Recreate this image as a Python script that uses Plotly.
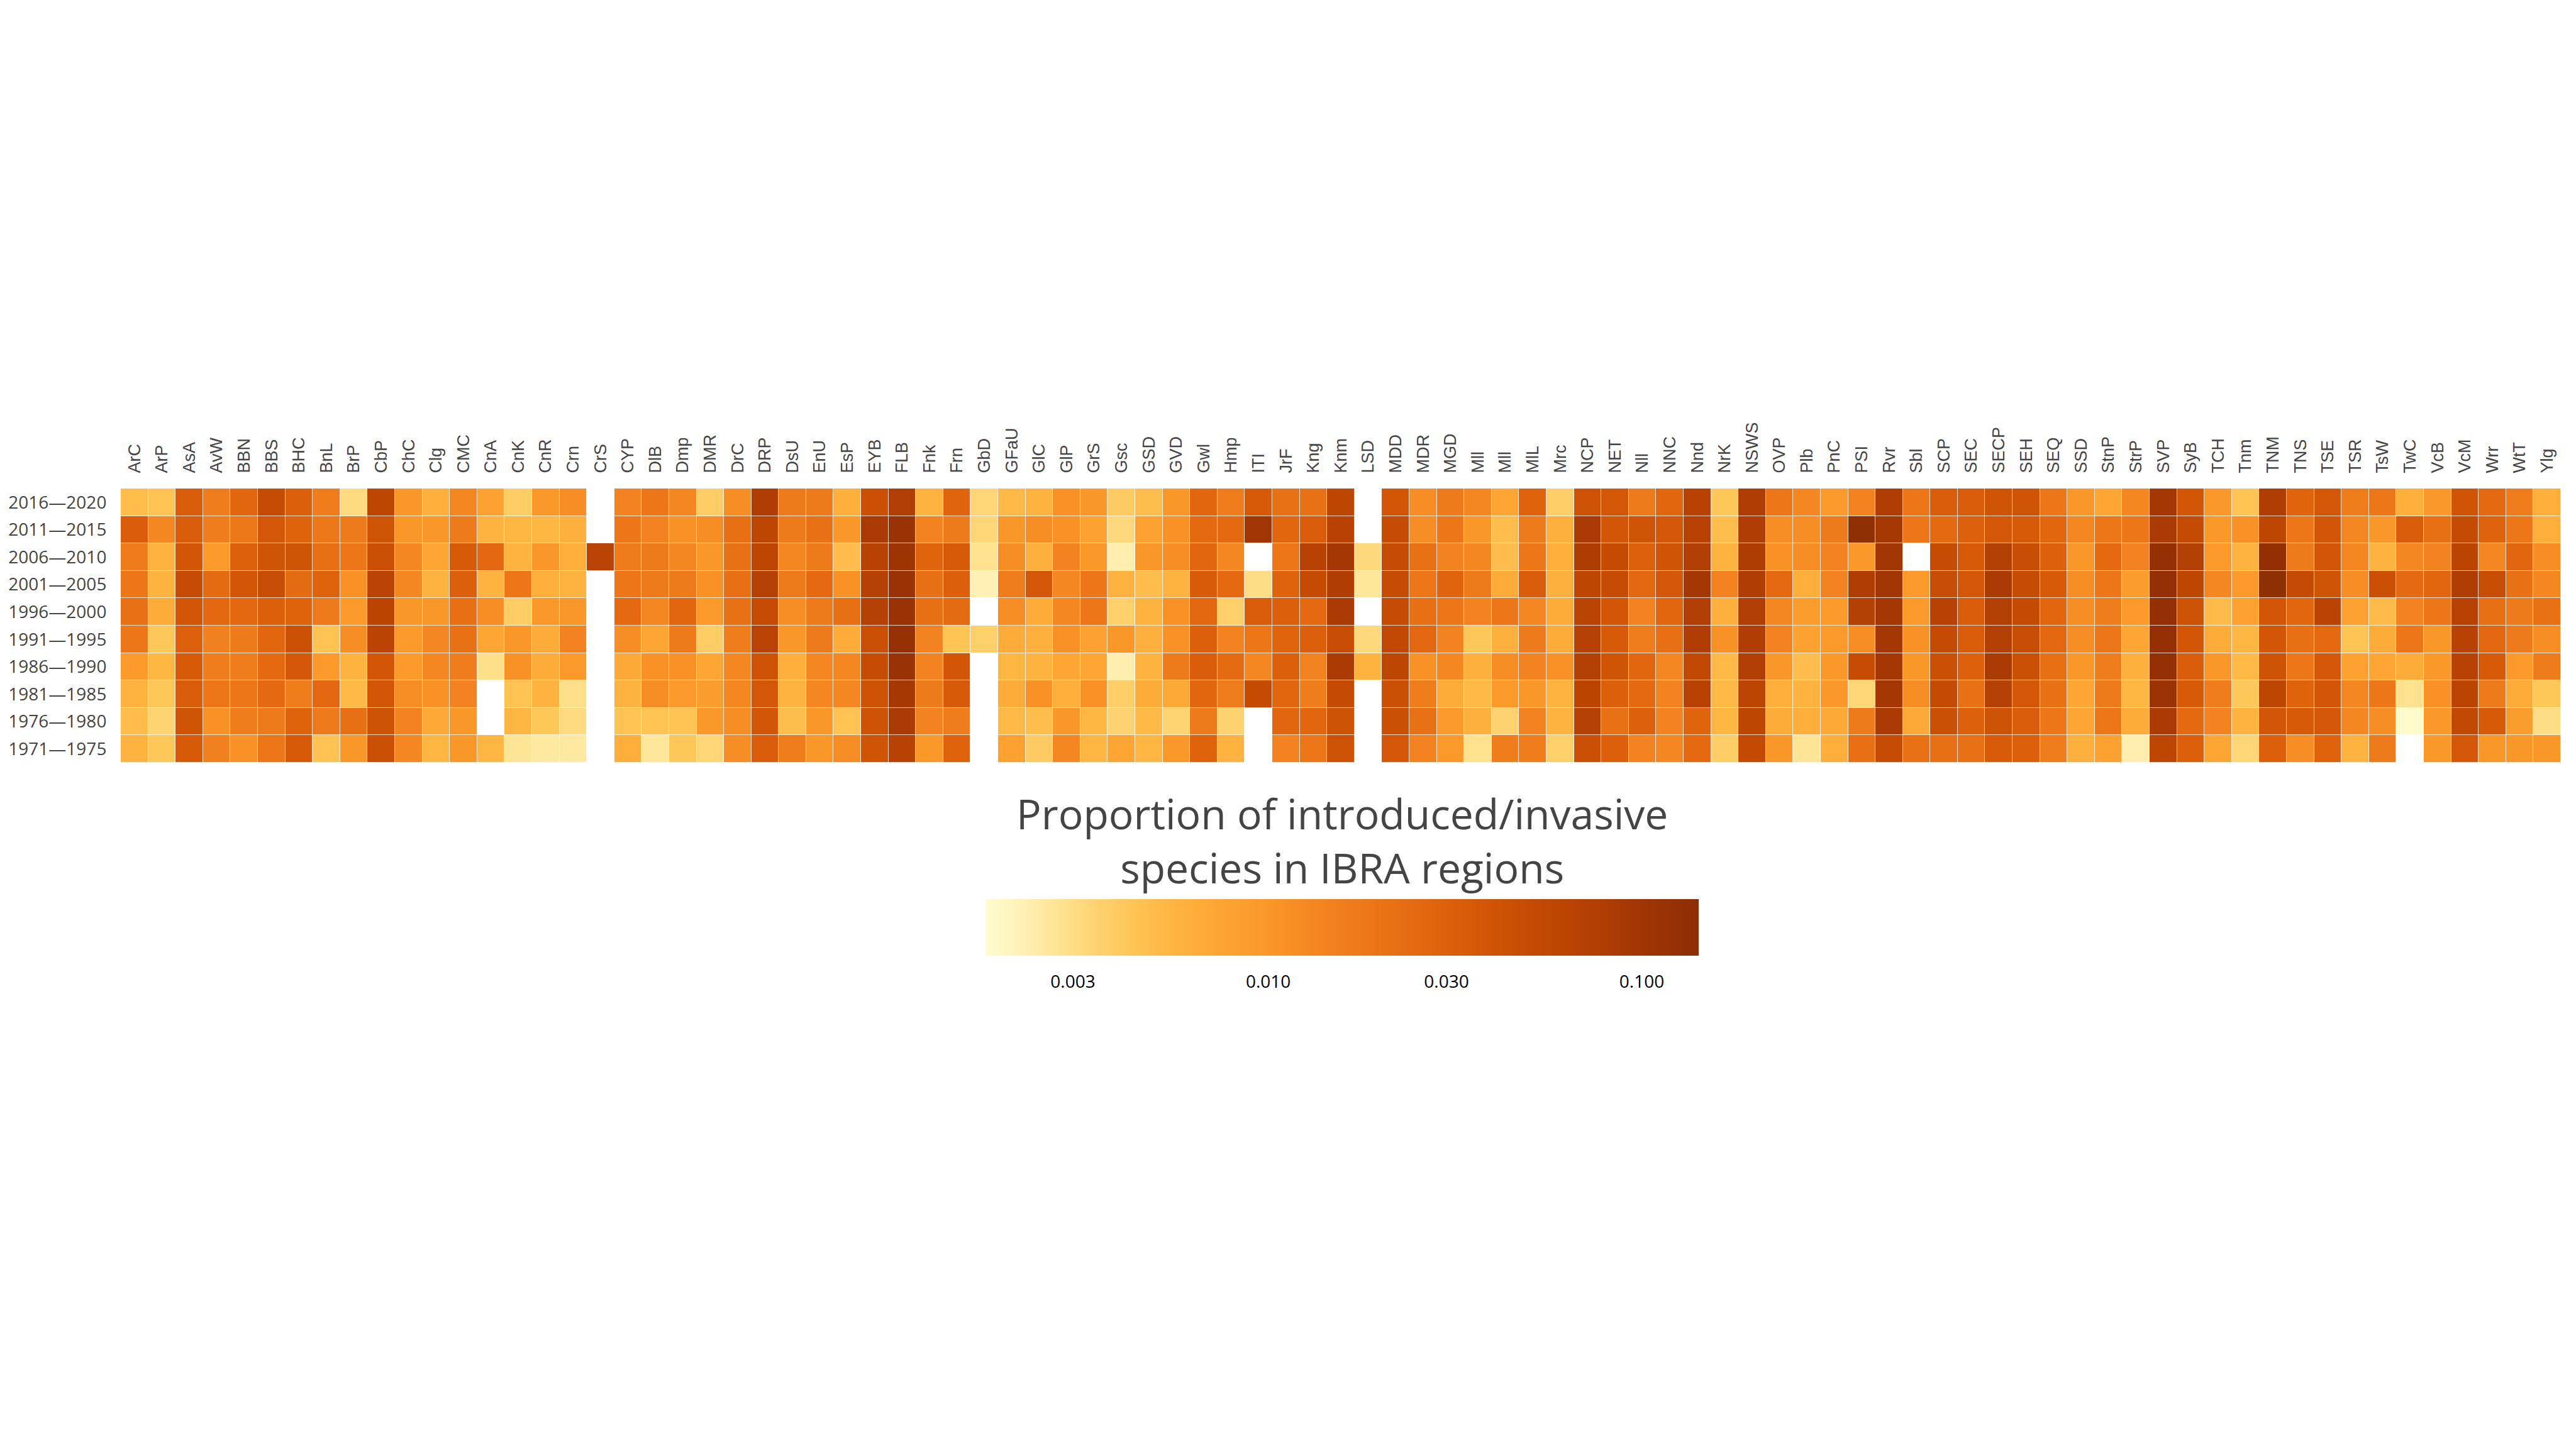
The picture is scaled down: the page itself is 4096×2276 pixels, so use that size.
import numpy as np
import plotly.graph_objects as go

regions = ["ArC","ArP","AsA","AvW","BBN","BBS","BHC","BnL","BrP","CbP",
           "ChC","Clg","CMC","CnA","CnK","CnR","Crn","CrS","CYP","DlB",
           "Dmp","DMR","DrC","DRP","DsU","EnU","EsP","EYB","FLB","Fnk",
           "Frn","GbD","GFaU","GlC","GlP","GrS","Gsc","GSD","GVD","Gwl",
           "Hmp","ITI","JrF","Kng","Knm","LSD","MDD","MDR","MGD","Mll",
           "Mll","MlL","Mrc","NCP","NET","Nll","NNC","Nnd","NrK","NSWS",
           "OVP","Plb","PnC","PSI","Rvr","Sbl","SCP","SEC","SECP","SEH",
           "SEQ","SSD","StnP","StrP","SVP","SyB","TCH","Tnm","TNM","TNS",
           "TSE","TSR","TsW","TwC","VcB","VcM","Wrr","WtT","Ylg"]

periods = ["2016\u20142020","2011\u20142015","2006\u20142010","2001\u20142005","1996\u20142000",
           "1991\u20141995","1986\u20141990","1981\u20141985","1976\u20141980","1971\u20141975"]

p2016_2020 = [.0050,.0045,.033,.016,.027,.050,.031,.016,.0031,.058,
              .010,.0062,.013,.0078,.0038,.0098,.0115,None,.014,.019,
              .013,.0038,.0115,.078,.017,.017,.0063,.045,.076,.0058,
              .028,.0033,.0052,.0058,.011,.010,.0039,.0048,.010,.027,
              .016,.035,.021,.021,.058,None,.038,.0115,.017,.013,
              .0072,.029,.0037,.042,.037,.017,.027,.067,.0042,.078,
              .019,.013,.0095,.014,.078,.019,.033,.033,.040,.040,
              .019,.010,.0072,.013,.095,.038,.0098,.0044,.078,.028,
              .037,.016,.019,.0063,.0098,.040,.025,.016,.0063]

p2011_2015 = [.033,.013,.033,.016,.018,.037,.029,.018,.017,.040,
              .010,.010,.017,.0058,.0055,.0055,.006,None,.019,.014,
              .011,.0115,.022,.058,.017,.021,.010,.088,.115,.014,
              .017,.0033,.010,.0115,.011,.0078,.0032,.0078,.011,.025,
              .025,.10,.027,.033,.067,None,.050,.0115,.019,.010,
              .0049,.017,.006,.088,.038,.040,.037,.067,.0049,.078,
              .0115,.0115,.017,.138,.092,.019,.025,.030,.037,.035,
              .027,.013,.019,.019,.085,.051,.0098,.011,.058,.019,
              .038,.013,.010,.033,.022,.051,.029,.019,.0063]

p2006_2010 = [.0165,.0058,.038,.0095,.030,.040,.040,.022,.019,.045,
              .013,.0072,.035,.026,.0057,.010,.0063,.065,.0165,.017,
              .013,.010,.021,.058,.013,.017,.0049,.067,.105,.028,
              .035,.0028,.012,.006,.014,.0098,.0023,.010,.0115,.027,
              .013,None,.019,.067,.095,.0032,.050,.021,.014,.013,
              .0049,.019,.0063,.080,.051,.030,.040,.076,.0057,.080,
              .011,.0115,.014,.0098,.10,None,.050,.035,.073,.048,
              .030,.010,.025,.014,.125,.073,.0092,.0058,.13,.017,
              .038,.013,.0058,.013,.014,.062,.013,.027,.0115]

p2001_2005 = [.019,.0058,.050,.024,.038,.048,.024,.029,.011,.065,
              .013,.0058,.031,.0058,.019,.0063,.0058,None,.019,.017,
              .017,.011,.022,.070,.017,.025,.011,.070,.115,.022,
              .031,.0022,.016,.037,.013,.019,.0058,.0049,.0058,.034,
              .025,.0030,.029,.051,.078,.0026,.050,.019,.028,.017,
              .0065,.033,.006,.058,.050,.026,.037,.095,.014,.078,
              .025,.0063,.014,.078,.10,.0095,.048,.037,.085,.050,
              .035,.0115,.019,.0088,.125,.058,.013,.0092,.138,.051,
              .040,.0115,.045,.025,.027,.078,.048,.021,.013]

p1996_2000 = [.021,.0065,.038,.026,.026,.031,.029,.017,.0095,.062,
              .010,.010,.022,.012,.0038,.0098,.010,None,.025,.013,
              .027,.0092,.021,.050,.0115,.017,.022,.070,.115,.022,
              .024,None,.0115,.0065,.013,.019,.0036,.0058,.011,.026,
              .0036,.033,.031,.025,.085,None,.050,.022,.019,.014,
              .019,.013,.0065,.064,.038,.014,.027,.076,.006,.076,
              .013,.0088,.0095,.073,.095,.0095,.067,.033,.073,.051,
              .027,.0115,.016,.0095,.125,.042,.0051,.0078,.038,.027,
              .064,.0078,.0051,.014,.019,.067,.022,.017,.021]

p1991_1995 = [.019,.0042,.030,.015,.017,.027,.043,.0045,.0115,.062,
              .0092,.013,.021,.0072,.010,.0065,.014,None,.0115,.0072,
              .017,.0038,.016,.066,.010,.017,.0065,.045,.12,.014,
              .0044,.0036,.0065,.006,.011,.0078,.010,.006,.011,.031,
              .014,.019,.028,.031,.048,.0032,.055,.026,.014,.0042,
              .006,.017,.0065,.070,.035,.016,.022,.078,.011,.078,
              .014,.0078,.0092,.0115,.095,.011,.051,.033,.073,.048,
              .026,.0115,.019,.0072,.125,.038,.0065,.0055,.038,.022,
              .025,.0044,.0065,.019,.010,.067,.026,.017,.0115]

p1986_1990 = [.0095,.0055,.035,.016,.016,.025,.037,.0095,.0058,.038,
              .0095,.013,.016,.0029,.011,.0065,.0092,None,.0068,.011,
              .011,.0072,.013,.042,.0063,.013,.013,.050,.115,.014,
              .038,None,.0055,.0057,.0072,.0072,.0023,.0058,.017,.033,
              .024,.013,.031,.014,.088,.0058,.058,.011,.013,.006,
              .0115,.014,.011,.073,.040,.027,.013,.055,.0052,.076,
              .010,.0049,.0098,.050,.095,.010,.045,.030,.088,.045,
              .022,.010,.016,.006,.125,.033,.010,.0052,.042,.019,
              .037,.0078,.0072,.0065,.0098,.067,.035,.0092,.0165]

p1981_1985 = [.0058,.0042,.033,.019,.019,.025,.016,.026,.0052,.038,
              .012,.011,.014,None,.0045,.0057,.0029,None,.0058,.012,
              .0092,.0088,.013,.037,.0057,.013,.013,.042,.092,.017,
              .035,None,.0065,.011,.0063,.011,.0037,.0065,.0068,.027,
              .016,.051,.027,.016,.051,None,.045,.016,.0065,.0052,
              .0092,.010,.0058,.062,.031,.025,.014,.067,.0052,.060,
              .0063,.0058,.0098,.0033,.095,.012,.051,.021,.070,.037,
              .021,.0072,.017,.0055,.11,.035,.016,.0042,.058,.029,
              .038,.013,.019,.0028,.011,.062,.017,.0065,.0042]

p1976_1980 = [.0050,.0034,.040,.011,.016,.017,.029,.017,.022,.042,
              .014,.0068,.010,None,.0055,.0042,.0031,None,.0045,.0045,
              .0045,.0098,.0115,.038,.0048,.010,.0045,.042,.085,.014,
              .016,None,.0052,.0048,.010,.0055,.0035,.0052,.0034,.017,
              .0035,None,.027,.027,.042,None,.045,.021,.0092,.006,
              .0035,.014,.0058,.070,.021,.030,.014,.028,.0055,.058,
              .0065,.0063,.0068,.017,.088,.0068,.045,.030,.042,.033,
              .019,.0072,.019,.0065,.085,.025,.014,.0057,.038,.035,
              .037,.013,.0115,.0018,.0098,.056,.035,.0088,.0030]

p1971_1975 = [.0058,.0042,.035,.015,.011,.019,.035,.0045,.010,.045,
              .013,.0055,.010,.0055,.0027,.0025,.0025,None,.0063,.0026,
              .0042,.0033,.0115,.033,.016,.010,.012,.040,.067,.0098,
              .029,None,.0078,.0039,.013,.0055,.0072,.0055,.0098,.029,
              .0058,None,.014,.019,.042,None,.037,.014,.0092,.0028,
              .016,.016,.0036,.045,.031,.014,.013,.025,.0038,.052,
              .010,.0027,.0063,.022,.050,.021,.022,.021,.034,.031,
              .016,.006,.0078,.0023,.058,.031,.0072,.0033,.031,.0115,
              .029,.0058,.017,None,.0098,.037,.010,.010,.010]

cbar_ticks = [0.003, 0.010, 0.030, 0.100]
cbar_ticktext = ["0.003", "0.010", "0.030", "0.100"]
z_low, z_high = 0.00175, 0.142
cbar_title = "Proportion of introduced/invasive<br>species in IBRA regions"

rows = [p2016_2020, p2011_2015, p2006_2010, p2001_2005, p1996_2000,
        p1991_1995, p1986_1990, p1981_1985, p1976_1980, p1971_1975]
vals = np.array([[np.nan if v is None else v for v in r] for r in rows], dtype=float)
z = np.log10(vals)

colorscale = [
    [0.00, "rgb(255,252,208)"], [0.05, "rgb(255,241,182)"], [0.10, "rgb(254,228,148)"],
    [0.15, "rgb(254,212,116)"], [0.21, "rgb(254,196,84)"], [0.27, "rgb(254,179,64)"],
    [0.33, "rgb(253,164,50)"], [0.40, "rgb(250,150,40)"], [0.46, "rgb(244,134,33)"],
    [0.54, "rgb(236,118,24)"], [0.62, "rgb(226,102,15)"], [0.70, "rgb(211,86,6)"],
    [0.77, "rgb(196,74,3)"], [0.86, "rgb(177,62,4)"], [0.93, "rgb(158,52,4)"],
    [1.00, "rgb(141,46,4)"]]

W, H = 4096, 2276
ml, mr, mt, mb = 192, 24, 777, 1063
pw, ph = W - ml - mr, H - mt - mb

def px_to_paper_y(ypix):
    return (H - mb - ypix) / ph

fig = go.Figure(go.Heatmap(
    z=z,
    x=list(range(len(regions))),
    y=list(range(len(periods))),
    colorscale=colorscale,
    zmin=np.log10(z_low), zmax=np.log10(z_high),
    xgap=0.8, ygap=0.8,
    hoverongaps=False,
    colorbar=dict(
        orientation="h",
        x=(2134 - ml) / pw, xanchor="center",
        y=px_to_paper_y(1430), yanchor="top",
        lenmode="pixels", len=1134,
        thickness=90, thicknessmode="pixels",
        xpad=0, ypad=0, outlinewidth=0,
        tickvals=list(np.log10(cbar_ticks)), ticktext=cbar_ticktext,
        ticks="outside", ticklen=18, tickcolor="rgba(0,0,0,0)",
        tickfont=dict(family="Open Sans", size=28, color="#000000"),
    ),
))

fig.add_annotation(text=cbar_title, xref="paper", yref="paper",
                   x=(2134 - ml) / pw, y=px_to_paper_y(1336), xanchor="center", yanchor="middle",
                   showarrow=False, align="center",
                   font=dict(family="Open Sans", size=66, color="#444444"))

fig.update_xaxes(
    tickvals=list(range(len(regions))), ticktext=regions, side="top", tickangle=-90,
    range=[-0.5, len(regions) - 0.5], showgrid=False, zeroline=False, showline=False,
    ticks="outside", ticklen=18, tickcolor="rgba(0,0,0,0)",
    tickfont=dict(family="Liberation Sans", size=27, color="#444444"),
)
fig.update_yaxes(
    tickvals=list(range(len(periods))), ticktext=periods,
    range=[len(periods) - 0.5, -0.5], showgrid=False, zeroline=False, showline=False,
    ticks="outside", ticklen=16, tickcolor="rgba(0,0,0,0)",
    tickfont=dict(family="Open Sans", size=28, color="#444444"),
)
fig.update_layout(
    width=W, height=H,
    margin=dict(l=ml, r=mr, t=mt, b=mb, autoexpand=False),
    paper_bgcolor="white", plot_bgcolor="white",
    font=dict(family="Open Sans", color="#444444"),
)
fig.write_html("out.html")
